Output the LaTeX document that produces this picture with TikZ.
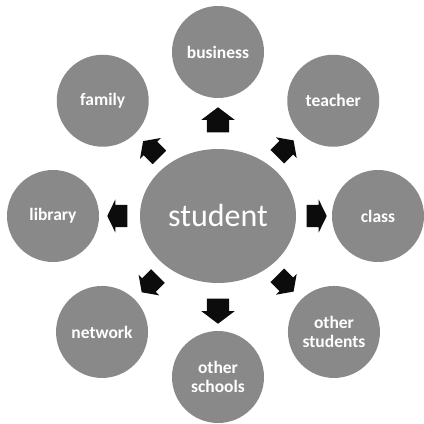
\documentclass[tikz,border=0pt]{standalone}
\usepackage{fontspec}
\setmainfont{Carlito}
\usetikzlibrary{shapes.geometric,shapes.arrows}
\definecolor{discgray}{RGB}{137,137,137}
\definecolor{arrowblack}{RGB}{12,12,12}

\begin{document}
\begin{tikzpicture}[x=1pt,y=1pt,
  topic/.style={circle, fill=discgray, text=white, minimum size=92pt, inner sep=0pt, align=center, font=\fontsize{17.5}{19}\selectfont\bfseries},
  pointer/.style={single arrow, fill=arrowblack, inner xsep=0pt, inner ysep=11pt, minimum height=25pt, single arrow head extend=5.5pt, single arrow tip angle=106},
  flatpointer/.style={pointer, minimum height=20pt, single arrow tip angle=128},
  slantpointer/.style={pointer, inner ysep=9.5pt, minimum height=23pt, single arrow head extend=5pt, single arrow tip angle=110},
]
\useasboundingbox (0,0) rectangle (424,424);
\node (student) [ellipse, fill=discgray, inner sep=0pt, minimum width=156pt, minimum height=134pt, text=white, font=\fontsize{32}{36}\selectfont] at (218,208) {student};

\node (business) [topic] at ([shift={(90:164)}]student) {business};
\node (teacher) [topic] at ([shift={(45:163)}]student) {teacher};
\node (class) [topic] at ([shift={(0:160)}]student) {class};
\node (otherstudents) [topic] at ([shift={(-45:164)}]student) {other\\students};
\node (otherschools) [topic] at ([shift={(-90:161)}]student) {other\\schools};
\node (network) [topic] at ([shift={(-135:164)}]student) {network};
\node (library) [topic] at ([shift={(180:165)}]student) {library};
\node (family) [topic] at ([shift={(135:163)}]student) {family};

\node (toBusiness) [pointer, rotate=90] at ([shift={(90:92)}]student) {};
\node (toTeacher) [slantpointer, rotate=45] at ([shift={(45:92)}]student) {};
\node (toClass) [flatpointer, rotate=0] at ([shift={(0:96)}]student) {};
\node (toOtherStudents) [slantpointer, rotate=-45] at ([shift={(-45:92)}]student) {};
\node (toOtherSchools) [pointer, rotate=-90] at ([shift={(-90:91)}]student) {};
\node (toNetwork) [slantpointer, rotate=-135] at ([shift={(-135:93)}]student) {};
\node (toLibrary) [flatpointer, rotate=180] at ([shift={(180:98)}]student) {};
\node (toFamily) [slantpointer, rotate=135] at ([shift={(135:91)}]student) {};
\end{tikzpicture}
\end{document}
